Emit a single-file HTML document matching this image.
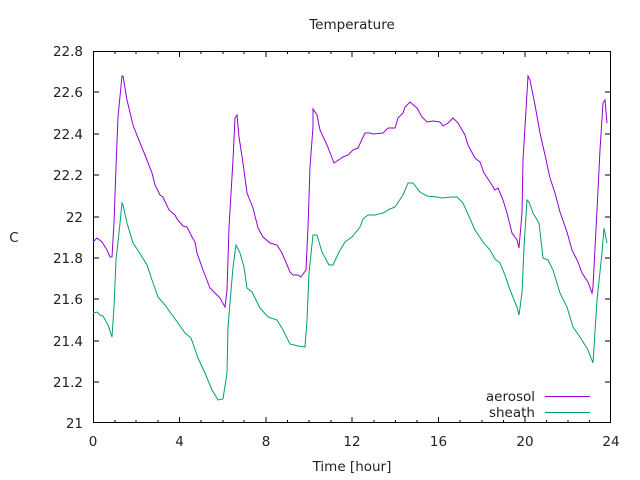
<!DOCTYPE html>
<html><head><style>body{margin:0;background:#fff}svg{display:block}text{font-family:"DejaVu Sans","Liberation Sans",sans-serif;font-size:13.5px;fill:#222}</style></head><body>
<svg width="640" height="480" viewBox="0 0 640 480">
<g stroke="#000" stroke-width="1" fill="none">
<rect x="93.5" y="51.5" width="517" height="371"/>
<path d="M93 382h6M611 382h-6M93 341h6M611 341h-6M93 299h6M611 299h-6M93 258h6M611 258h-6M93 217h6M611 217h-6M93 175h6M611 175h-6M93 134h6M611 134h-6M93 92h6M611 92h-6"/>
<path d="M179.5 423v-6M179.5 51v6M266 423v-6M266 51v6M352 423v-6M352 51v6M438.5 423v-6M438.5 51v6M525 423v-6M525 51v6"/>
<path d="M115 423v-3M115 51v3M136 423v-3M136 51v3M158 423v-3M158 51v3M201 423v-3M201 51v3M223 423v-3M223 51v3M244 423v-3M244 51v3M287.5 423v-3M287.5 51v3M309 423v-3M309 51v3M331 423v-3M331 51v3M374 423v-3M374 51v3M395.5 423v-3M395.5 51v3M417 423v-3M417 51v3M460 423v-3M460 51v3M482 423v-3M482 51v3M503.5 423v-3M503.5 51v3M546.5 423v-3M546.5 51v3M568 423v-3M568 51v3M589.5 423v-3M589.5 51v3"/>
</g>
<g text-anchor="end">
<text x="83" y="428">21</text><text x="83" y="387">21.2</text><text x="83" y="346">21.4</text><text x="83" y="304">21.6</text><text x="83" y="263">21.8</text><text x="83" y="222">22</text><text x="83" y="180">22.2</text><text x="83" y="139">22.4</text><text x="83" y="97">22.6</text><text x="83" y="56">22.8</text>
</g>
<g text-anchor="middle">
<text x="93" y="446">0</text><text x="179.5" y="446">4</text><text x="266" y="446">8</text><text x="352" y="446">12</text><text x="438.5" y="446">16</text><text x="525" y="446">20</text><text x="611" y="446">24</text>
<text x="352" y="29">Temperature</text>
<text x="352" y="471">Time [hour]</text>
<text x="14" y="242">C</text>
</g>
<g text-anchor="end"><text x="535" y="401">aerosol</text><text x="535" y="417">sheath</text></g>
<path d="M545 396.5h45" stroke="#9400d3"/>
<path d="M545 412.5h45" stroke="#009e73"/>
<polyline fill="none" stroke="#9400d3" stroke-width="1" points="93,242 97,238 102,242 107,250 110,257 112,257 114,223 116,167 118,117 122,76 123,76 127,100 133,125 138,138 145,155 152,173 155,185 160,195 163,197 169,210 175,215 177,219 183,226 187,227 192,237 195,242 197,253 203,270 210,288 217,295 220,298 225,307 227,290 229,227 233,160 235,118 237,115 239,137 243,163 247,193 253,208 258,228 263,237 270,243 277,245 282,253 290,272 293,275 298,275 301,277 306,270 308,227 310,167 313,127 313,109 317,115 320,130 327,145 334,163 340,159 343,157 348,155 353,150 358,148 365,133 370,133 373,134 383,133 388,128 395,128 398,118 403,113 405,107 410,102 417,108 422,117 427,122 433,121 440,122 443,126 448,123 453,118 458,123 465,135 468,145 475,158 480,162 484,173 490,182 495,190 498,188 503,200 507,213 512,233 517,240 519,248 522,213 523,160 526,110 528,76 530,80 535,105 540,133 545,155 550,178 555,193 560,212 567,232 572,250 578,262 582,273 588,282 592,293 593,287 597,210 600,150 603,103 605,100 607,123"/>
<polyline fill="none" stroke="#009e73" stroke-width="1" points="93,313 97,312 100,315 103,316 108,325 112,337 114,307 116,260 119,233 122,203 123,205 127,223 133,243 139,252 147,265 152,280 158,297 165,305 170,312 178,323 185,333 191,338 198,358 205,373 212,390 218,400 223,399 227,373 228,327 233,267 236,245 240,253 244,267 247,288 252,292 260,308 268,317 277,320 283,330 290,344 298,346 305,347 307,320 309,273 313,235 317,235 322,252 329,265 333,265 339,252 345,242 352,237 360,227 363,219 368,215 375,215 383,213 390,209 395,207 403,195 408,183 413,183 420,192 427,196 437,197 442,198 452,197 457,197 463,203 475,230 483,242 490,250 495,259 500,263 505,275 510,290 517,307 519,315 522,293 524,247 527,200 529,202 533,213 539,223 543,258 548,260 553,270 560,293 567,307 573,327 580,337 588,350 593,363 597,300 602,253 604,228 607,243"/>
</svg>
</body></html>
